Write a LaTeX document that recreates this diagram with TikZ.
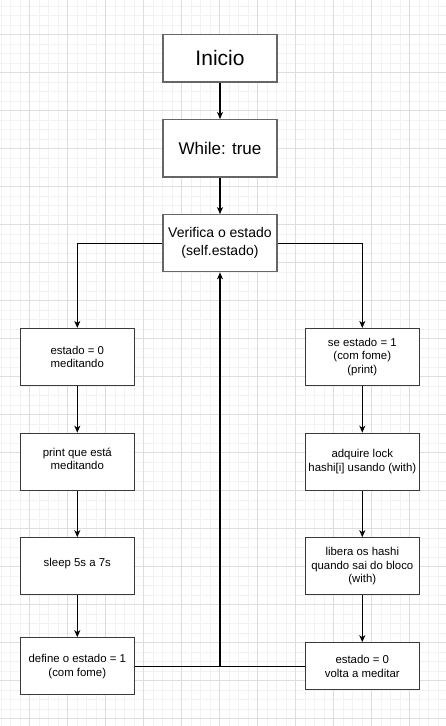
\documentclass[tikz,border=0pt]{standalone}
\usepackage{fontspec}
\setmainfont{Liberation Sans}
\usetikzlibrary{arrows.meta}
\definecolor{minorgrid}{HTML}{F2F2F2}
\definecolor{majorgrid}{HTML}{DDDDDD}
\definecolor{boxgray}{HTML}{666666}
\definecolor{boxdark}{HTML}{3A3A3A}
\begin{document}
\begin{tikzpicture}[x=1pt,y=-1pt,
  topbox/.style={draw=boxgray, line width=1.3pt, fill=white, minimum width=114pt, inner sep=0pt, align=center},
  smallbox/.style={draw=boxdark, line width=1.1pt, fill=white, minimum width=114pt, minimum height=57pt, inner sep=0pt, align=center, font=\fontsize{11.4}{13.7}\selectfont},
  conn/.style={draw=black, line width=1.1pt},
  arr/.style={conn, -{Stealth[length=7pt,width=6pt,inset=2pt]}}
]
\useasboundingbox (0,0) rectangle (446,726);
\fill[white] (0,0) rectangle (446,726);
% grid
\foreach \i in {0,...,47} {\draw[minorgrid, line width=0.6pt] (1.17+9.5*\i,0) -- ++(0,726);}
\foreach \i in {0,...,76} {\draw[minorgrid, line width=0.6pt] (0,5.8+9.5*\i) -- ++(446,0);}
\foreach \i in {0,...,11} {\draw[majorgrid, line width=0.8pt] (29.67+38*\i,0) -- ++(0,726);}
\foreach \i in {0,...,18} {\draw[majorgrid, line width=0.8pt] (0,34.3+38*\i) -- ++(446,0);}

% nodes
\node[topbox, minimum height=47.7pt, font=\fontsize{21}{25}\selectfont] (ini) at (220,58.2) {Inicio};
\node[topbox, minimum height=57.3pt, font=\fontsize{17}{20}\selectfont] (wh) at (220,148.3) {While: true};
\node[topbox, minimum height=57pt, font=\fontsize{14}{18.2}\selectfont] (ver) at (220,243.2) {Verifica o estado\\(self.estado)};

\node[smallbox] (l1) at (77.3,357) {estado = 0\\meditando};
\node[smallbox] (l2) at (77.3,461.7) {\raisebox{6pt}{\shortstack{print que está\\meditando}}};
\node[smallbox] (l3) at (77.3,566.2) {\raisebox{7pt}{sleep 5s a 7s}};
\node[smallbox] (l4) at (77.3,666.2) {define o estado = 1\\(com fome)};

\node[smallbox] (r1) at (362.3,357) {se estado = 1\\(com fome)\\(print)};
\node[smallbox] (r2) at (362.3,461.7) {adquire lock\\hashi[i] usando (with)};
\node[smallbox] (r3) at (362.3,566.2) {libera os hashi\\quando sai do bloco\\(with)};
\node[smallbox, minimum height=47pt] (r4) at (362.3,666.2) {estado = 0\\volta a meditar};

% connectors
\draw[arr] (ini) -- (wh);
\draw[arr] (wh) -- (ver);
\draw[arr] (ver.west) -| (l1.north);
\draw[arr] (ver.east) -| (r1.north);
\draw[arr] (l1) -- (l2);
\draw[arr] (l2) -- (l3);
\draw[arr] (l3) -- (l4);
\draw[arr] (r1) -- (r2);
\draw[arr] (r2) -- (r3);
\draw[arr] (r3) -- (r4);
\coordinate (j) at (ver.south |- l4.east);
\draw[conn] (l4.east) -- (r4.west);
\draw[arr] (j) -- (ver.south);
\end{tikzpicture}
\end{document}
